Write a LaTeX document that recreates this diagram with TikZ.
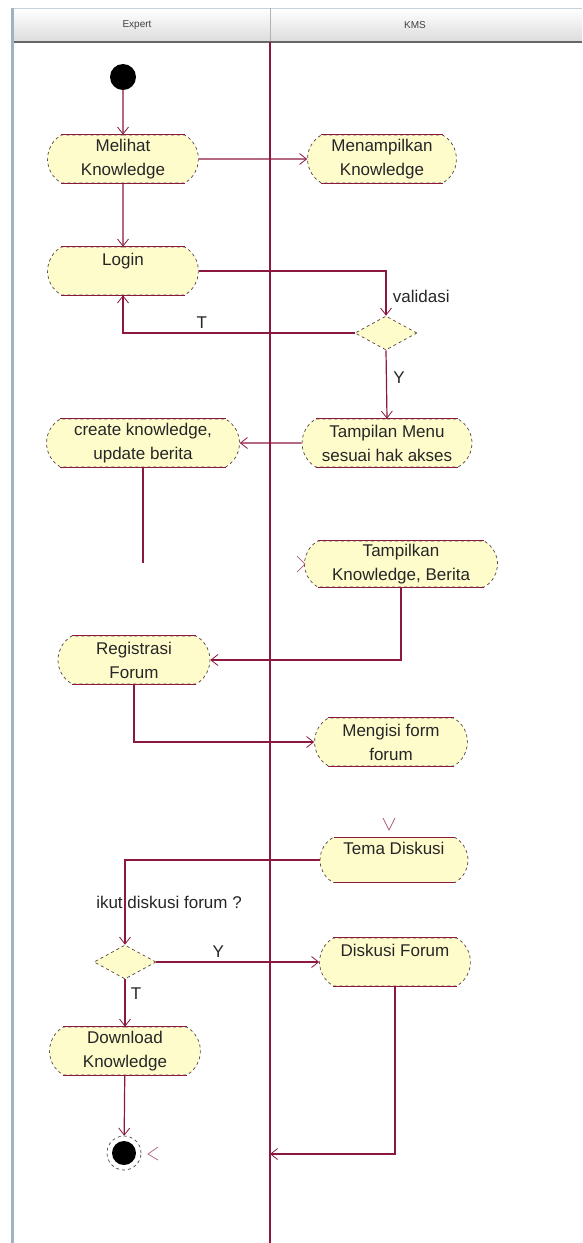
\documentclass[tikz,border=0pt]{standalone}
\usepackage{fontspec}
\setmainfont{Liberation Sans}
\usetikzlibrary{shapes.misc,shapes.geometric,arrows.meta,calc}
\definecolor{flow}{RGB}{140,24,64}
\definecolor{actfill}{RGB}{255,252,204}
\definecolor{sideline}{RGB}{80,66,66}
\definecolor{headbot}{RGB}{220,220,220}
\definecolor{frame}{RGB}{160,178,196}
% solid top and bottom rims of an action box
\newcommand{\rims}[1]{%
  \draw[draw=flow, line width=1.2pt]
    ([xshift=14pt]#1.west |- #1.north) -- ([xshift=-14pt]#1.east |- #1.north)
    ([xshift=14pt]#1.west |- #1.south) -- ([xshift=-14pt]#1.east |- #1.south);}
\begin{document}
\begin{tikzpicture}[x=1pt,y=-1pt,
  lbl/.style={font=\fontsize{17}{24}\selectfont, text=black!85},
  act/.style={rounded rectangle, rounded rectangle arc length=120,
    fill=actfill, draw=sideline, dashed, line width=0.7pt,
    minimum height=48pt, inner sep=0pt, align=center,
    font=\fontsize{17}{24}\selectfont, text=black!85},
  decision/.style={diamond, aspect=1.8, fill=actfill, draw=sideline, dashed,
    line width=0.7pt, minimum width=62pt, minimum height=34pt, inner sep=0pt},
  startnode/.style={circle, fill=black, minimum size=26pt, inner sep=0pt},
  endring/.style={circle, draw=sideline, dashed, line width=0.7pt, fill=white,
    minimum size=34pt, inner sep=0pt},
  flowline/.style={draw=flow, line width=1.2pt},
  arr/.style={flowline, -{Straight Barb[length=7pt,width=11pt,line width=0.8pt]}},
  tipmark/.style={draw=flow!70, line width=0.7pt},
  lanehead/.style={font=\fontsize{10}{12}\selectfont, text=black!75},
]
\useasboundingbox (0,0) rectangle (582,1243);
\fill[white] (0,0) rectangle (582,1243);

% swimlane header
\fill[top color=white, bottom color=headbot] (12,8) rectangle (582,42);
\draw[frame!60, line width=1pt] (12,8) -- (582,8);
\draw[gray!60, line width=1pt] (270,8) -- (270,42);
\draw[black!60, line width=2pt] (12,42) -- (582,42);
\node[lanehead] (laneExpert) at (137,25) {Expert};
\node[lanehead] (laneKMS) at (415,25) {KMS};
\coordinate (laneTop) at (270,42);
\coordinate (laneBottom) at (270,1243);
\draw[flowline] (laneTop) -- (laneBottom);
\draw[frame, line width=3pt] (12,8) -- (12,1243);

% actions
\node[startnode] (start) at (123,77) {};
\node[act, minimum width=151pt] (see) at (123,159) {Melihat\\Knowledge};
\node[act, minimum width=149pt] (show) at (382,159) {Menampilkan\\Knowledge};
\node[act, minimum width=151pt] (login) at (123,271) {Login\\~};
\node[decision] (valid) at (386,333) {};
\node[act, minimum width=170pt] (menu) at (387,443) {Tampilan Menu\\sesuai hak akses};
\node[act, minimum width=193pt] (create) at (143,443) {create knowledge,\\update berita};
\coordinate (createEnd) at (143,563);
\node[act, minimum width=193pt, minimum height=46pt] (info) at (401,564) {Tampilkan\\Knowledge, Berita};
\node[act, minimum width=152pt] (reg) at (134,660) {Registrasi\\Forum};
\node[act, minimum width=153pt] (fill) at (391,742) {Mengisi form\\forum};
\node[act, minimum width=148pt, minimum height=45pt] (theme) at (394,860) {Tema Diskusi\\~};
\node[decision] (join) at (125,962) {};
\node[act, minimum width=151pt] (forum) at (395,962) {Diskusi Forum\\~};
\node[act, minimum width=151pt] (dl) at (125,1051) {Download\\Knowledge};
\node[endring] (end) at (124,1153) {};
\fill[black] (end.center) circle (12pt);

\foreach \n in {see,show,login,menu,create,info,reg,fill,theme,forum,dl} {\rims{\n}}

% flows
\draw[arr] (start) -- (see);
\draw[arr] (see) -- (show);
\draw[arr] (see) -- (login);
\draw[arr] (login.east) -| (valid.north)
  node[lbl, pos=0.78, right=3pt] {validasi};
\draw[arr] (valid.west) -| (login.south)
  node[lbl, pos=0.33, above=1pt] {T};
\draw[arr] (valid.south) -- (menu.north)
  node[lbl, pos=0.4, right=3pt] {Y};
\draw[arr] (menu) -- (create);
\draw[flowline] (create.south) -- (createEnd);
\draw[arr] (info.south) |- (reg.east);
\draw[arr] (reg.south) |- (fill.west);
\draw[arr] (theme.west) -| (join.north)
  node[lbl, pos=0.75, xshift=44pt] {ikut diskusi forum ?};
\draw[arr] (join.east) -- (forum.west)
  node[lbl, pos=0.38, above=1pt] {Y};
\draw[arr] (join.south) -- (dl.north)
  node[lbl, pos=0.3, right=2pt] {T};
\draw[arr] (dl) -- (end);
\coordinate (laneHit) at (270,1154);
\draw[arr] (forum.south) |- (laneHit);

% loose arrow heads
\draw[tipmark] (297,556) -- (305,564) -- (297,572);
\draw[tipmark] (383,818) -- (389,830) -- (395,818);
\draw[tipmark] (158,1147) -- (148,1154) -- (158,1160);
\end{tikzpicture}
\end{document}
